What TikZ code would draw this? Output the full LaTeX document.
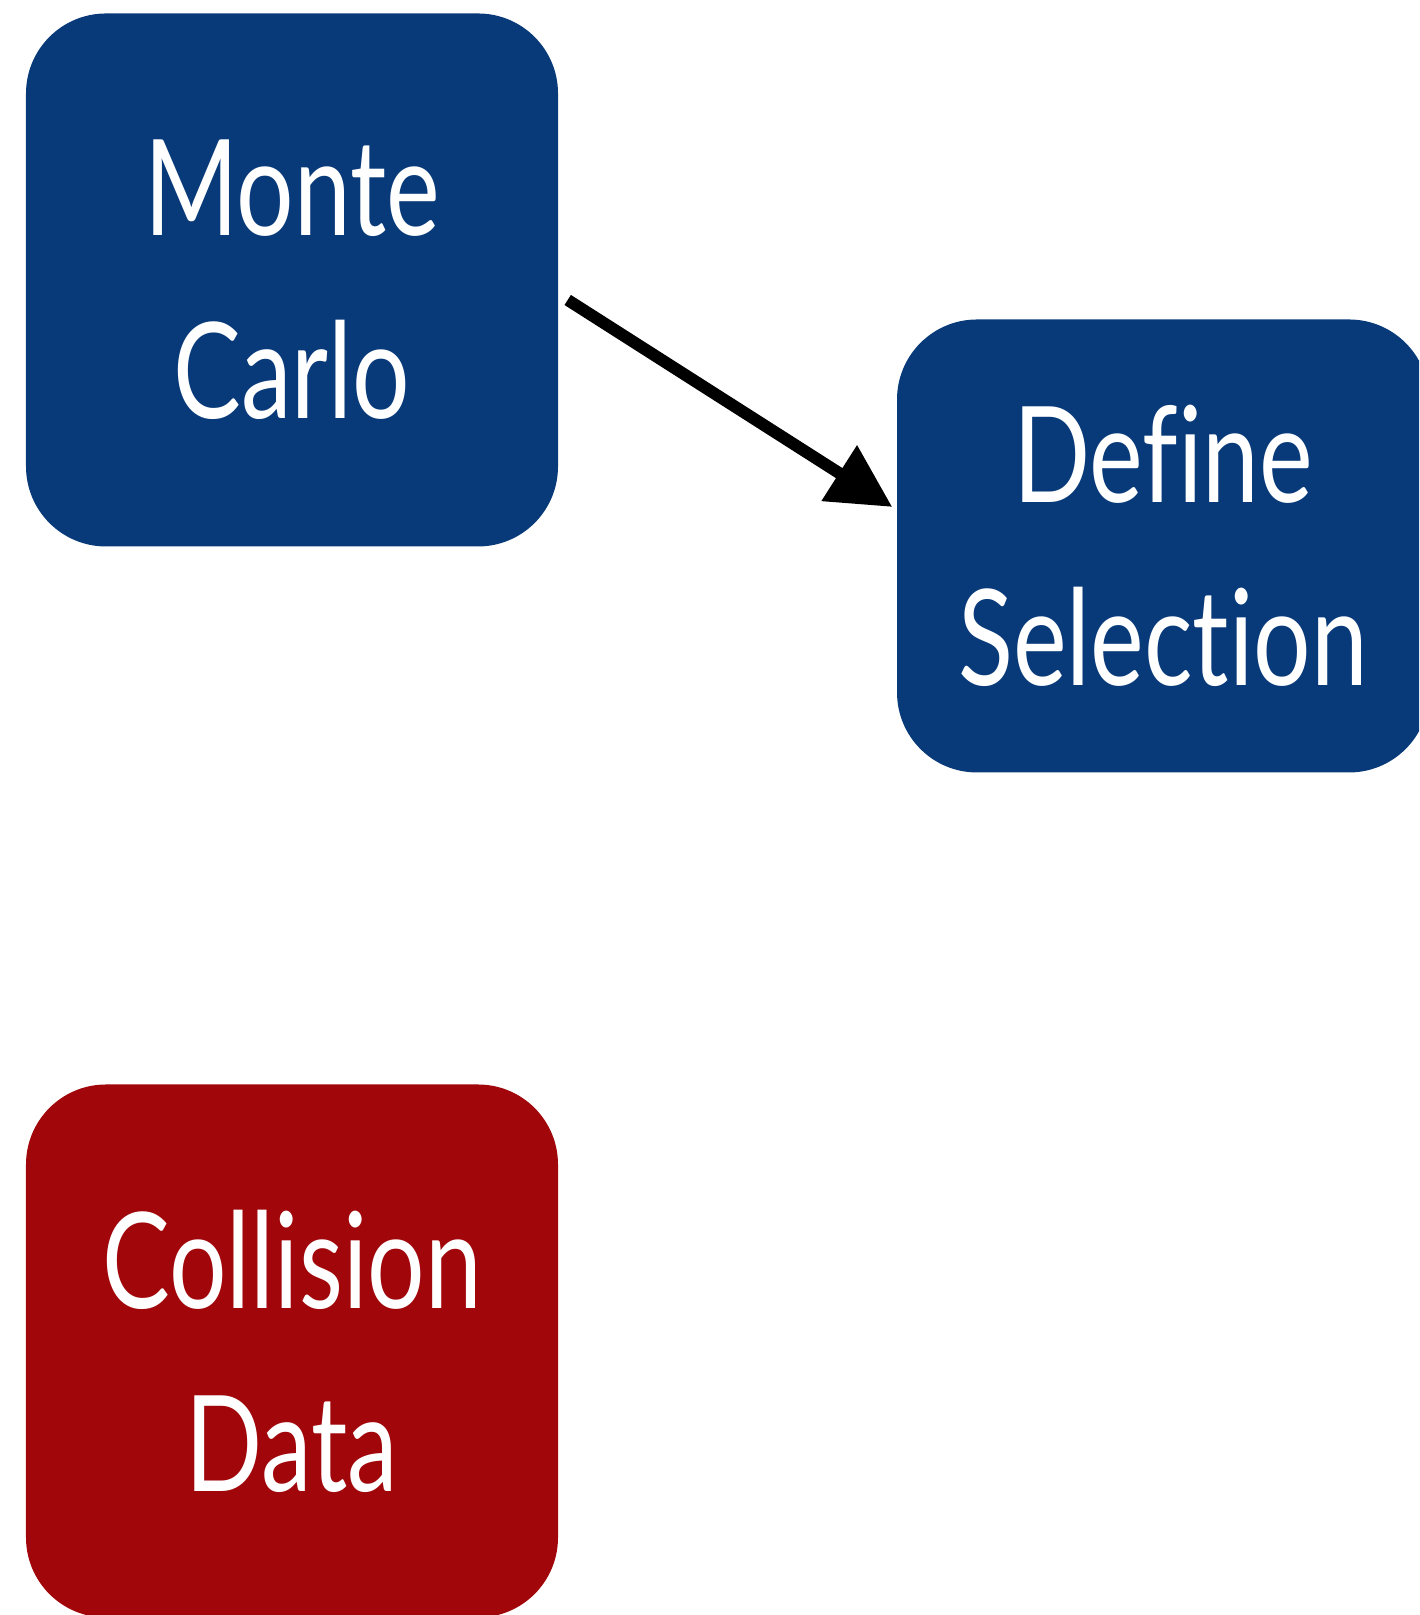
\documentclass[tikz,border=0pt]{standalone}
\usepackage{fontspec}
\usepackage{xcolor}
\usepackage{tikz}
\usetikzlibrary{arrows.meta, positioning}
\newfontfamily\boxfont[FakeStretch=0.76, Ligatures=NoCommon]{Lato}
\definecolor{mcblue}{HTML}{083A7A}
\definecolor{datared}{HTML}{A0060A}

\begin{document}
\begin{tikzpicture}[
    stage/.style={fill=mcblue, rounded corners=0.8cm, minimum width=5.32cm, minimum height=5.33cm, align=center, text=white, inner sep=0pt, font=\boxfont\fontsize{38}{52}\selectfont},
    datastage/.style={stage, fill=datared},
    arrow/.style={-{Triangle[length=6.3mm, width=6.3mm]}, line width=3.4pt, black}
]
    \useasboundingbox (0,0) rectangle (14.19,16.15);
    \clip (0,0) rectangle (14.19,16.15);

    % Boxes
    \node[stage] (mc) at (2.92, 13.35) {Monte\\Carlo};
    \node[stage, minimum height=4.53cm] (sel) at (11.63, 10.69) {Define\\Selection};
    \node[datastage] (data) at (2.92, 2.64) {Collision\\Data};

    % Arrow
    \draw[arrow] ([xshift=0.09cm, yshift=-0.2cm]mc.east) -- ([xshift=-0.04cm, yshift=0.39cm]sel.west);
\end{tikzpicture}
\end{document}
